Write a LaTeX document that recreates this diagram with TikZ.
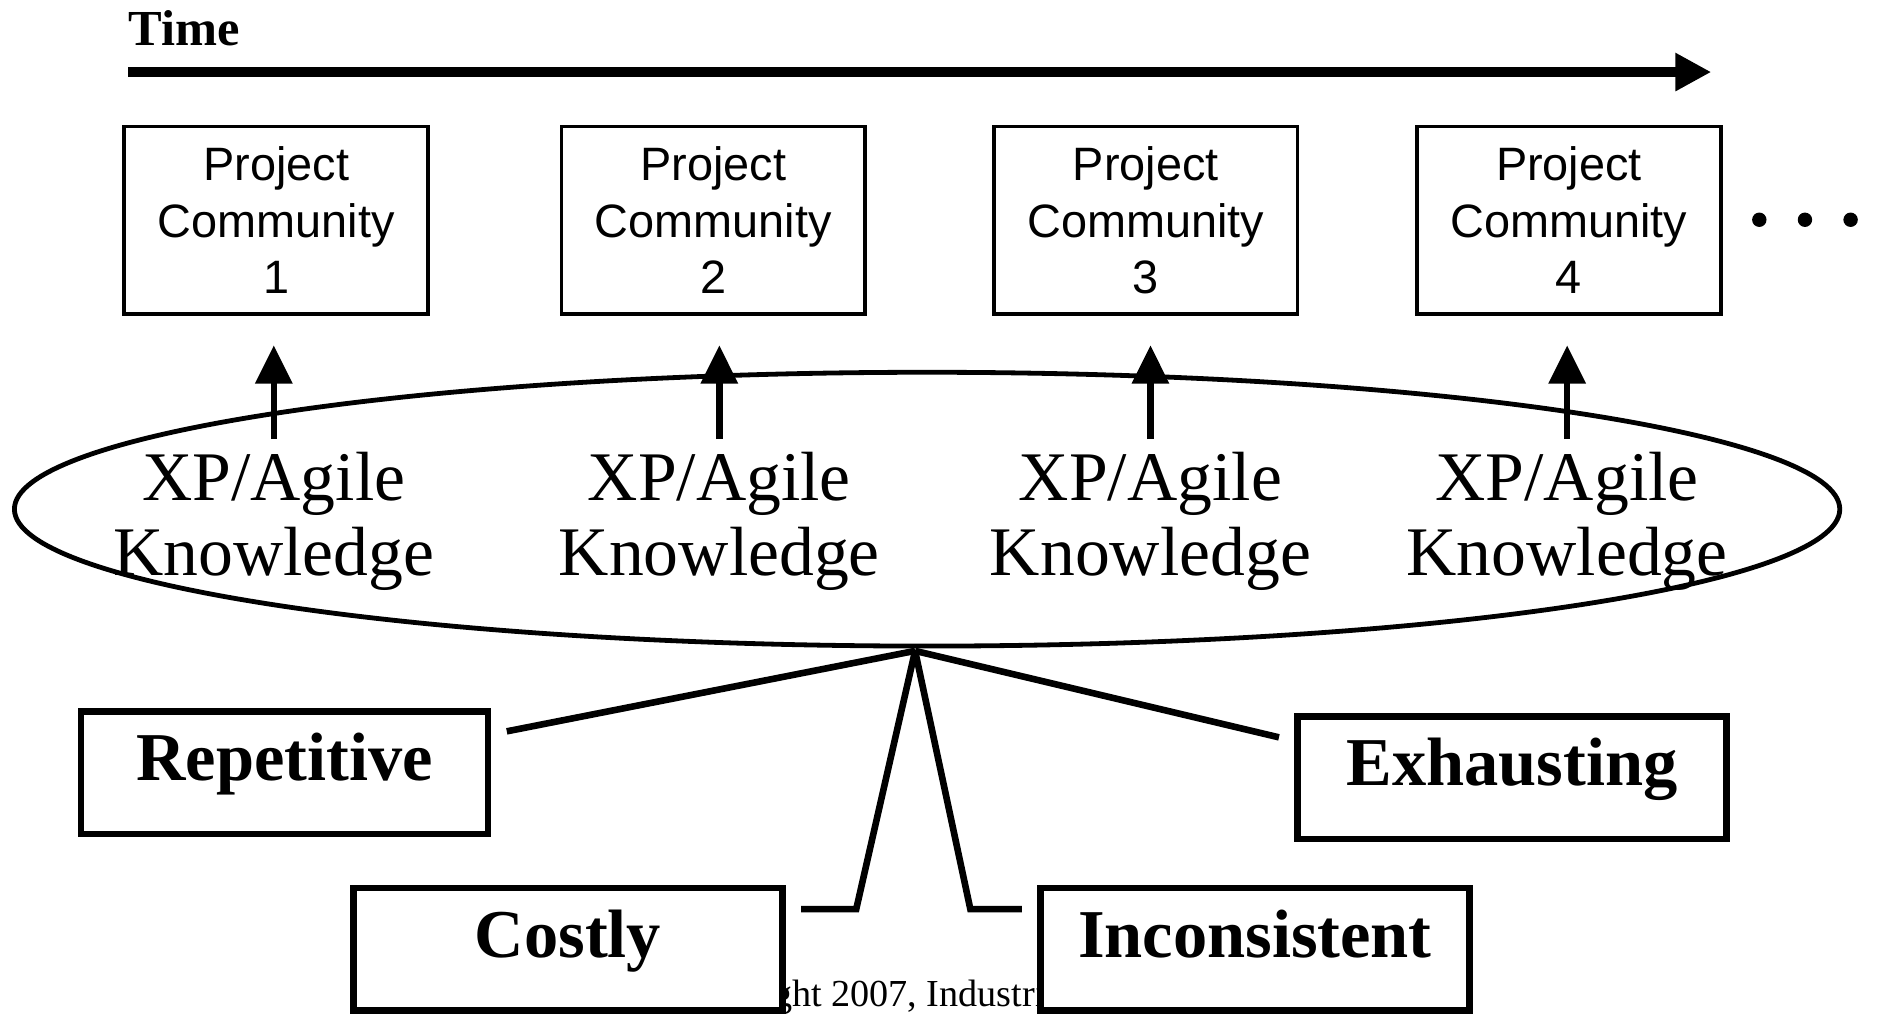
\documentclass[tikz,border=0pt]{standalone}
\usepackage{fontspec}
\setmainfont{Liberation Serif}
\setsansfont{Liberation Sans}
\usetikzlibrary{arrows.meta,shapes.geometric,calc}
\begin{document}
\begin{tikzpicture}[x=0.5pt,y=-0.5pt,
  projbox/.style={draw, line width=1.5pt, minimum width=126.5pt, minimum height=78pt,
    inner sep=0pt, align=center, font=\sffamily\fontsize{19.5}{23.5}\selectfont},
  knowlabel/.style={inner sep=0pt, align=center, font=\fontsize{29}{31.5}\selectfont},
  issuebox/.style={draw, line width=2.75pt, fill=white, minimum height=51pt, inner sep=0pt,
    text height=0.79em, text depth=0.12em, font=\bfseries\fontsize{28.5}{34}\selectfont},
  link/.style={line width=2.75pt},
  uparrow/.style={line width=2.75pt, -{Triangle[length=16pt,width=15pt]},
    shorten <=5pt, shorten >=12.25pt},
]
\useasboundingbox (0,0) rectangle (1568,844);

% time axis
\node[anchor=base west, inner sep=0pt, font=\bfseries\fontsize{21}{25}\selectfont] (time) at (107,38) {Time};
\coordinate (tstart) at (107,60);
\coordinate (tend) at (1425,60);
\draw[line width=4pt, -{Triangle[length=15pt,width=15pt]}] (tstart) -- (tend);

% project communities
\node[projbox] (p1) at (230,183.5) {Project\\Community\\1};
\node[projbox] (p2) at (594,183.5) {Project\\Community\\2};
\node[projbox] (p3) at (954,183.5) {Project\\Community\\3};
\node[projbox] (p4) at (1306.5,183.5) {Project\\Community\\4};
\foreach \x in {1465,1503,1541} \fill (\x,183) circle (3pt);

% shared knowledge
\node[ellipse, draw, line width=2pt, minimum width=760pt, minimum height=114pt, inner sep=0pt] (kb) at (772,424) {};
\node[knowlabel] (k1) at (228,434) {XP/Agile\\Knowledge};
\node[knowlabel] (k2) at (599,434) {XP/Agile\\Knowledge};
\node[knowlabel] (k3) at (958,434) {XP/Agile\\Knowledge};
\node[knowlabel] (k4) at (1305,434) {XP/Agile\\Knowledge};
\foreach \i in {1,2,3,4}
  \draw[uparrow] (k\i.north) -- (k\i.north |- p\i.south);

% footer line, partly covered by the boxes
\node[anchor=base west, inner sep=0pt, font=\fontsize{15.9}{18}\selectfont] (copy) at (555,838) {Copyright 2007, Industrial Logic, Inc.};

% drawbacks
\node[issuebox, minimum width=169.5pt] (rep) at (237,643.5) {Repetitive};
\node[issuebox, minimum width=178.5pt] (exh) at (1259,647.5) {Exhausting};
\node[issuebox, minimum width=178.5pt] (cost) at (473,790.5) {Costly};
\node[issuebox, minimum width=178.5pt] (inc) at (1045,790.5) {Inconsistent};

\coordinate (hub) at ($(kb.south)+(-10,2)$);
\coordinate (repend) at (422,609);
\coordinate (exhend) at (1065,614);
\coordinate (costbend) at (713,757);
\coordinate (costend) at (667,757);
\coordinate (incbend) at (808,757);
\coordinate (incend) at (851,757);
\draw[link] (hub) -- (repend);
\draw[link] (hub) -- (exhend);
\draw[link] (hub) -- (costbend) -- (costend);
\draw[link] (hub) -- (incbend) -- (incend);
\end{tikzpicture}
\end{document}
